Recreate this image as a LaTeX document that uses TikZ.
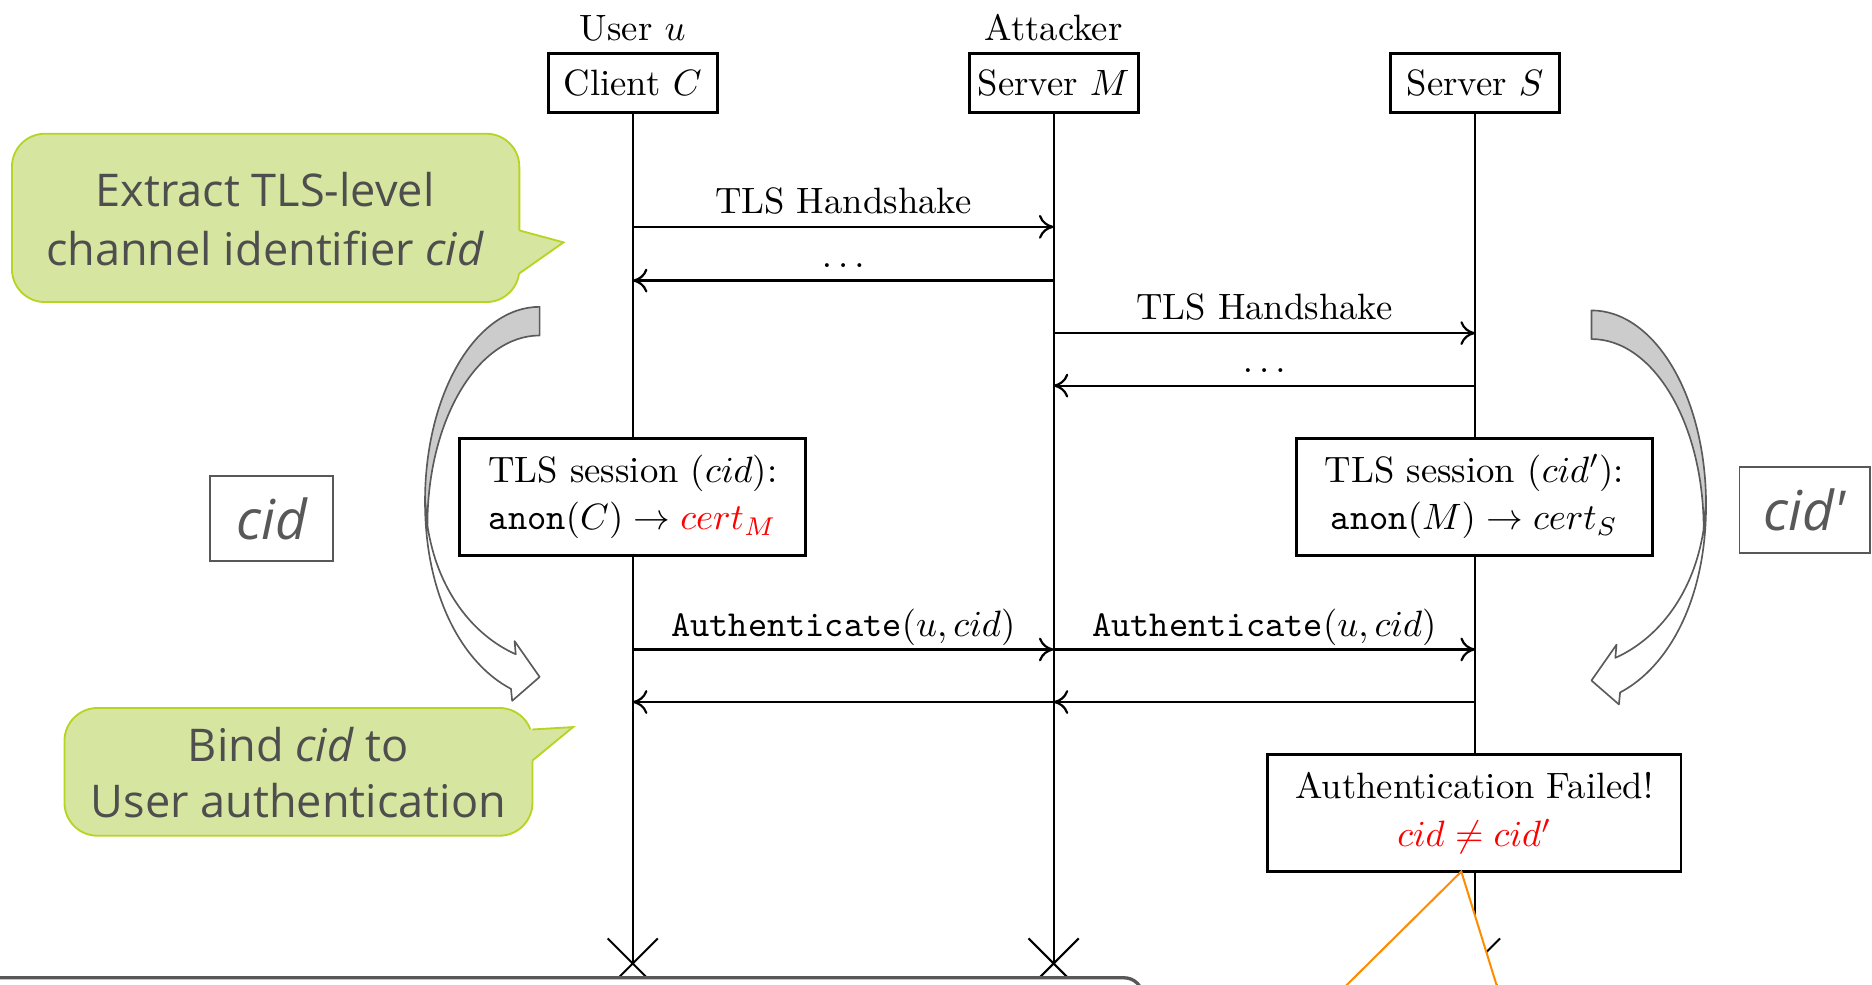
\documentclass[tikz,border=0pt]{standalone}
\usepackage{fontspec}
\usetikzlibrary{arrows.meta}
\newfontfamily\noteface{Open Sans}
\definecolor{notefill}{RGB}{214,230,160}
\definecolor{noteedge}{RGB}{182,212,34}
\definecolor{notetext}{RGB}{78,78,78}
\definecolor{framegray}{RGB}{88,88,88}
\definecolor{bendfill}{RGB}{204,204,204}
\definecolor{bendedge}{RGB}{90,90,90}
\definecolor{pointerorange}{RGB}{255,140,0}

% twisted curved arrow: shaded back half, then the white front half with its head
\newcommand\drawbend{%
  \filldraw[bendback] (452,257) .. controls (399,257) and (356,329) .. (356,420)
    -- (358,440) .. controls (358,352) and (400,281) .. (452,281) -- cycle;
  \filldraw[bendfront] (356,420) .. controls (356,500) and (388,556) .. (428,577)
    -- (429,587) -- (452,567) -- (431,537) -- (432,548)
    .. controls (396,532) and (366,494) .. (358,440) -- cycle;
}

\begin{document}
\begin{tikzpicture}[x=0.3257pt, y=-0.3257pt,
  lifeline/.style={line width=0.55pt},
  actorbox/.style={draw, line width=0.8pt, fill=white, minimum width=46.1pt,
    minimum height=16.1pt, inner sep=0pt},
  notebox/.style={draw, line width=0.8pt, fill=white, inner sep=0pt, align=center,
    minimum height=31.9pt},
  msg/.style={line width=0.6pt, -{Computer Modern Rightarrow[length=4pt,width=6.5pt]}},
  msglabel/.style={anchor=base, yshift=3.6pt, inner sep=0pt},
  bubble/.style={draw=noteedge, fill=notefill, line width=0.5pt},
  bubbleedge/.style={draw=noteedge, line width=0.5pt},
  bubbletext/.style={anchor=base, inner sep=0pt, text=notetext,
    font=\noteface\fontsize{12.3}{16}\selectfont},
  tagbox/.style={draw=framegray, line width=0.5pt, fill=white, inner sep=0pt,
    text=framegray, font=\noteface\itshape\fontsize{15}{18}\selectfont},
  bendback/.style={fill=bendfill, draw=bendedge, line width=0.45pt, line join=round},
  bendfront/.style={fill=white, draw=bendedge, line width=0.45pt, line join=round},
]
\clip (0,0) rectangle (1568,825);

% participants
\node[anchor=base] (userlbl) at (530,34) {User $u$};
\node[anchor=base] (attlbl) at (882.5,34) {Attacker};
\node[actorbox] (C) at (530,69.5) {Client $C$};
\node[actorbox] (M) at (882.5,69.5) {Server $M$};
\node[actorbox] (S) at (1235.5,69.5) {Server $S$};

\coordinate (Cend) at (530,807);
\coordinate (Mend) at (882.5,807);
\coordinate (Send) at (1235.5,807);

% lifelines and their terminating crosses
\draw[lifeline] (C.south) -- (Cend);
\draw[lifeline] (M.south) -- (Mend);
\draw[lifeline] (S.south) -- (Send);
\foreach \e in {Cend,Mend,Send}{
  \draw[lifeline] (\e) ++(-21,-21) -- ++(42,42) (\e) ++(21,-21) -- ++(-42,42);
}

% message rows
\coordinate (r1) at (0,190);
\coordinate (r2) at (0,235);
\coordinate (r3) at (0,279);
\coordinate (r4) at (0,323);
\coordinate (r5) at (0,544);
\coordinate (r6) at (0,588);

\draw[msg] (C |- r1) -- node[msglabel] (m1) {TLS Handshake} (M |- r1);
\draw[msg] (M |- r2) -- node[msglabel] (m2) {$\ldots$} (C |- r2);
\draw[msg] (M |- r3) -- node[msglabel] (m3) {TLS Handshake} (S |- r3);
\draw[msg] (S |- r4) -- node[msglabel] (m4) {$\ldots$} (M |- r4);
\draw[msg] (C |- r5) -- node[msglabel] (m5) {\texttt{Authenticate}$(u, cid)$} (M |- r5);
\draw[msg] (M |- r5) -- node[msglabel] (m6) {\texttt{Authenticate}$(u, cid)$} (S |- r5);
\draw[msg] (S |- r6) -- (M |- r6);
\draw[msg] (M |- r6) -- (C |- r6);

% state boxes on the lifelines
\node[notebox, minimum width=94.45pt] (sessC) at (530,416)
  {TLS session ($cid$):\\[1pt] \texttt{anon}$(C) \rightarrow {\color{red}cert_M}$};
\node[notebox, minimum width=97.06pt] (sessS) at (1235,416)
  {TLS session ($cid'$):\\[1pt] \texttt{anon}$(M) \rightarrow cert_S$};
\node[notebox, minimum width=112.7pt] (fail) at (1235,681)
  {Authentication Failed!\\[1pt] \textcolor{red}{$cid \neq cid'$}};

% bent arrows beside the lifelines
\begin{scope}
  \drawbend
\end{scope}
\begin{scope}[shift={(1785,3)}, xscale=-1]
  \drawbend
\end{scope}

% identifier tags
\node[tagbox, minimum width=33.5pt, minimum height=23.1pt] (tagL) at (227.5,434.5) {cid};
\node[tagbox, minimum width=35.5pt, minimum height=23.45pt] (tagR) at (1511.5,427) {cid\textquotesingle};

% speech bubble: extract identifier
\draw[bubble, rounded corners=9pt] (10,112) rectangle (435,253);
\fill[notefill] (430,193) -- (436,193) -- (472,203) -- (436,229) -- (430,229) -- cycle;
\draw[bubbleedge] (435,193) -- (472,203) -- (435,229);
\node[bubbletext] (ex1) at (222,173) {Extract TLS-level};
\node[bubbletext] (ex2) at (222,222) {channel identifier \textit{cid}};

% speech bubble: bind identifier
\draw[bubble, rounded corners=9pt] (54,593) rectangle (446,700);
\fill[notefill] (441,611) -- (447,611) -- (480,609) -- (447,637) -- (441,637) -- cycle;
\draw[bubbleedge] (446,611) -- (480,609) -- (446,637);
\node[bubbletext] (bd1) at (250,638) {Bind \textit{cid} to};
\node[bubbletext] (bd2) at (250,685) {User authentication};

% panel along the lower edge
\fill[white] (-20,819) rectangle (960,840);
\draw[line width=0.9pt, draw=framegray, rounded corners=5pt] (-20,819) -- (957,819) -- (957,860);

% pointer of a callout reaching up to the failure box
\filldraw[draw=pointerorange, fill=white, line width=0.55pt]
  (1120,833) -- (1224,730) -- (1256,833);
\end{tikzpicture}
\end{document}
